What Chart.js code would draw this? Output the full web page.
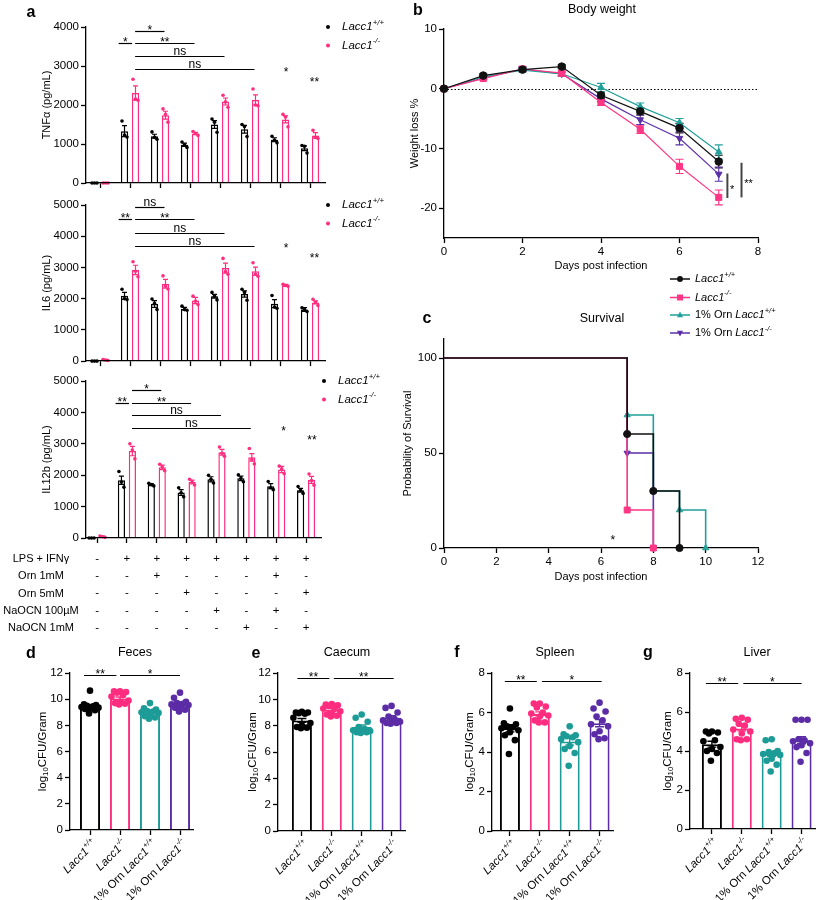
<!DOCTYPE html>
<html>
<head>
<meta charset="utf-8">
<title>Lacc1 / ornithine figure</title>
<script src="https://cdn.jsdelivr.net/npm/chart.js@4.4.1/dist/chart.umd.min.js"></script>
<style>
  body { margin: 0; background: #fff; }
  #page { position: relative; width: 825px; height: 900px; overflow: hidden; font-family: "Liberation Sans", Arial, sans-serif; color: #000; }
  canvas { position: absolute; }
  .t { position: absolute; transform: translate(-50%, -50%); white-space: nowrap; font-size: 12.5px; }
  .p { position: absolute; transform: translate(-50%, -50%); font-weight: bold; font-size: 16px; }
</style>
</head>
<body>
<div id="page">
  <canvas id="tnf"></canvas>
  <canvas id="il6"></canvas>
  <canvas id="il12"></canvas>
  <canvas id="bw"></canvas>
  <canvas id="surv"></canvas>
  <canvas id="feces"></canvas>
  <canvas id="caecum"></canvas>
  <canvas id="spleen"></canvas>
  <canvas id="liver"></canvas>

  <div class="p" style="left:31px;top:12px">a</div>
  <div class="p" style="left:418px;top:10px">b</div>
  <div class="p" style="left:427px;top:318px">c</div>
  <div class="p" style="left:31px;top:653px">d</div>
  <div class="p" style="left:256px;top:653px">e</div>
  <div class="p" style="left:457px;top:652px">f</div>
  <div class="p" style="left:648px;top:652px">g</div>

  <div class="t" style="left:602px;top:9px">Body weight</div>
  <div class="t" style="left:602px;top:318px">Survival</div>
  <div class="t" style="left:135px;top:652px">Feces</div>
  <div class="t" style="left:347px;top:652px">Caecum</div>
  <div class="t" style="left:555px;top:652px">Spleen</div>
  <div class="t" style="left:757px;top:652px">Liver</div>
</div>
<script>
const FONT = '"Liberation Sans", Arial, Helvetica, sans-serif';
const BLACK = '#000000', PINK = '#ff2d7f', TEAL = '#1d9c97', PURPLE = '#5b2ca6';

// ---------- a: cytokines, 8 treatment conditions ----------
const conditionNames = ['LPS + IFNγ', 'Orn 1mM', 'Orn 5mM', 'NaOCN 100µM', 'NaOCN 1mM'];
const conditionTable = [
  ['-', '+', '+', '+', '+', '+', '+', '+'],
  ['-', '-', '+', '-', '-', '-', '+', '-'],
  ['-', '-', '-', '+', '-', '-', '-', '+'],
  ['-', '-', '-', '-', '+', '-', '+', '-'],
  ['-', '-', '-', '-', '-', '+', '-', '+']
];

const tnfWT = [0, 1330, 1200, 980, 1500, 1380, 1110, 890];
const tnfWTsem = [0, 140, 50, 40, 100, 100, 50, 60];
const tnfWTpts = [[0, 0, 0], [1590, 1230, 1180], [1310, 1170, 1120], [1050, 980, 910], [1640, 1560, 1300], [1500, 1450, 1190], [1200, 1100, 1030], [960, 940, 770]];
const tnfKO = [0, 2310, 1740, 1270, 2090, 2130, 1630, 1220];
const tnfKOsem = [0, 180, 100, 30, 90, 130, 90, 70];
const tnfKOpts = [[0, 0, 0], [2660, 2150, 2120], [1900, 1760, 1560], [1320, 1270, 1220], [2250, 2080, 1940], [2410, 2000, 1980], [1760, 1690, 1440], [1350, 1170, 1140]];

const il6WT = [0, 2090, 1830, 1680, 2080, 2150, 1840, 1650];
const il6WTsem = [0, 110, 110, 40, 60, 100, 130, 60];
const il6WTpts = [[0, 0, 0], [2300, 2000, 1970], [1990, 1850, 1650], [1760, 1650, 1630], [2200, 2080, 1960], [2300, 2200, 1950], [2100, 1730, 1690], [1710, 1650, 1590]];
const il6KO = [35, 2920, 2480, 1940, 2980, 2880, 2430, 1880];
const il6KOsem = [20, 150, 140, 100, 160, 130, 30, 50];
const il6KOpts = [[50, 35, 20], [3180, 2880, 2700], [2730, 2400, 2310], [2080, 1920, 1810], [3290, 2870, 2780], [3150, 2780, 2720], [2460, 2420, 2400], [1980, 1890, 1780]];

const il12WT = [0, 1840, 1700, 1450, 1870, 1900, 1650, 1520];
const il12WTsem = [0, 130, 30, 90, 80, 70, 80, 60];
const il12WTpts = [[0, 0, 0], [2120, 1780, 1620], [1740, 1700, 1660], [1600, 1440, 1310], [2000, 1870, 1750], [2010, 1900, 1790], [1800, 1600, 1540], [1640, 1520, 1420]];
const il12KO = [40, 2770, 2250, 1780, 2730, 2570, 2180, 1850];
const il12KOsem = [20, 150, 70, 60, 90, 120, 100, 110];
const il12KOpts = [[60, 40, 20], [3000, 2800, 2520], [2350, 2260, 2140], [1870, 1780, 1690], [2900, 2700, 2600], [2850, 2500, 2360], [2290, 2200, 2050], [2040, 1830, 1680]];

const tnfTicks = [0, 1000, 2000, 3000, 4000];
const il6Ticks = [0, 1000, 2000, 3000, 4000, 5000];

// significance: [from, to, value, text]  /  single marks: [x, value, text]
const tnfSig = [[0.62, 1.07, 3590, '*'], [1.17, 2.15, 3897, '*'], [1.17, 3.15, 3590, '**'], [1.17, 4.15, 3256, 'ns'], [1.17, 5.15, 2923, 'ns']];
const tnfMarks = [[6.2, 2923, '*'], [7.15, 2667, '**']];
const il6Sig = [[0.62, 1.07, 4554, '**'], [1.17, 2.15, 4936, 'ns'], [1.17, 3.15, 4554, '**'], [1.17, 4.15, 4108, 'ns'], [1.17, 5.15, 3694, 'ns']];
const il6Marks = [[6.2, 3726, '*'], [7.15, 3408, '**']];
const il12Sig = [[0.62, 1.07, 4299, '**'], [1.17, 2.15, 4713, '*'], [1.17, 3.15, 4299, '**'], [1.17, 4.15, 3917, 'ns'], [1.17, 5.15, 3503, 'ns']];
const il12Marks = [[6.25, 3494, '*'], [7.2, 3217, '**']];

// ---------- b: body weight ----------
const days = [0, 1, 2, 3, 4, 5, 6, 7];
const bwWT = [0, 2.2, 3.2, 3.7, -1.1, -3.8, -6.6, -12.2];
const bwWTerr = [0, 0.3, 0.3, 0.3, 0.5, 0.6, 0.8, 1.05];
const bwKO = [0, 1.7, 3.3, 2.6, -2.3, -6.8, -13.0, -18.2];
const bwKOerr = [0, 0.2, 0.4, 0.5, 0.5, 0.7, 1.2, 1.25];
const bwOrnWT = [0, 2.0, 3.1, 2.5, 0.2, -3.0, -5.7, -10.6];
const bwOrnWTerr = [0, 0.3, 0.3, 0.3, 0.7, 0.6, 0.7, 1.2];
const bwOrnKO = [0, 1.8, 3.3, 2.5, -1.7, -5.2, -8.3, -14.3];
const bwOrnKOerr = [0, 0.3, 0.3, 0.3, 0.5, 0.8, 1.1, 1.2];
const bwTicks = [-20, -10, 0, 10];
const bwDayTicks = [0, 2, 4, 6, 8];
const bwSig = [[7.22, -14.2, -18.3, '*', 7.34, -16.4], [7.58, -12.4, -18.2, '**', 7.76, -15.4]];

// ---------- c: survival (Kaplan-Meier steps) ----------
const survWTx = [0, 7, 8, 9], survWTy = [100, 60, 30, 0];
const survKOx = [0, 7, 8], survKOy = [100, 20, 0];
const survOrnWTx = [0, 7, 8, 9, 10], survOrnWTy = [100, 70, 30, 20, 0];
const survOrnKOx = [0, 7, 8], survOrnKOy = [100, 50, 0];
const survTicks = [0, 50, 100];
const survDayTicks = [0, 2, 4, 6, 8, 10, 12];
const survMarks = [[6.45, 6, '*']];

// ---------- d-g: bacterial load ----------
const WT = [['Lacc1', 'i'], ['+/+', 'is']];
const KO = [['Lacc1', 'i'], ['-/-', 'is']];
const ORN = ['1% Orn ', ''];
const cfuGroups = [WT, KO, [ORN, ...WT], [ORN, ...KO]];
const cfuColors = [BLACK, PINK, TEAL, PURPLE];

const fecesMean = [9.45, 10.05, 9.05, 9.65];
const fecesSem = [0.12, 0.12, 0.1, 0.13];
const fecesPts = [
  [10.65, 9.6, 9.55, 9.5, 9.45, 9.4, 9.35, 9.3, 9.25, 9.15, 8.9],
  [10.6, 10.6, 10.55, 10.5, 10.3, 10.2, 9.9, 9.8, 9.7, 9.65, 9.6],
  [9.7, 9.3, 9.2, 9.1, 9.05, 9.0, 8.95, 8.85, 8.7, 8.6, 8.5],
  [10.5, 10.1, 9.8, 9.7, 9.65, 9.6, 9.55, 9.45, 9.35, 9.2, 9.05]
];
const caecumMean = [8.4, 9.2, 7.9, 8.6];
const caecumSem = [0.15, 0.1, 0.15, 0.15];
const caecumPts = [
  [9.05, 9.0, 9.0, 8.95, 8.9, 8.6, 8.2, 8.0, 7.9, 7.85, 7.8],
  [9.65, 9.6, 9.55, 9.5, 9.4, 9.3, 9.1, 8.95, 8.85, 8.75, 8.7],
  [8.85, 8.6, 8.3, 7.9, 7.75, 7.65, 7.6, 7.55, 7.5, 7.5, 7.45],
  [9.5, 9.35, 9.0, 8.7, 8.5, 8.4, 8.3, 8.25, 8.2, 8.2, 8.15]
];
const spleenMean = [5.2, 5.93, 4.53, 5.46];
const spleenSem = [0.18, 0.1, 0.18, 0.18];
const spleenPts = [
  [6.2, 5.45, 5.4, 5.3, 5.25, 5.2, 5.1, 5.0, 4.85, 4.6, 3.9],
  [6.45, 6.45, 6.3, 6.25, 6.0, 5.95, 5.85, 5.8, 5.6, 5.5, 5.5],
  [5.3, 4.9, 4.85, 4.8, 4.75, 4.65, 4.5, 4.3, 4.15, 3.95, 3.3],
  [6.5, 6.2, 6.05, 5.8, 5.6, 5.4, 5.3, 5.05, 4.9, 4.7, 4.65]
];
const liverMean = [4.35, 5.15, 3.85, 4.55];
const liverSem = [0.15, 0.12, 0.13, 0.18];
const liverPts = [
  [5.0, 5.0, 4.95, 4.9, 4.55, 4.5, 4.2, 4.1, 4.0, 3.9, 3.5],
  [5.7, 5.65, 5.6, 5.4, 5.3, 5.1, 5.0, 4.9, 4.6, 4.6, 4.55],
  [4.6, 4.55, 4.0, 3.95, 3.9, 3.85, 3.8, 3.6, 3.5, 3.3, 2.95],
  [5.6, 5.6, 5.6, 4.6, 4.55, 4.5, 4.4, 4.3, 4.2, 3.9, 3.45]
];
const cfuTicks12 = [0, 2, 4, 6, 8, 10, 12];
const cfuTicks8 = [0, 2, 4, 6, 8];
const fecesSig = [[-0.2, 0.88, 11.85, '**'], [1.0, 3.0, 11.85, '*']];
const caecumSig = [[-0.15, 0.92, 11.6, '**'], [1.07, 3.07, 11.6, '**']];
const spleenSig = [[-0.17, 0.9, 7.6, '**'], [1.07, 3.07, 7.6, '*']];
const liverSig = [[-0.2, 0.88, 7.5, '**'], [1.05, 3.0, 7.5, '*']];

// ---------- chart.js defaults ----------
Chart.defaults.font.family = FONT;
Chart.defaults.color = '#000';
Chart.defaults.animation = false;
Chart.defaults.responsive = false;
Chart.defaults.events = [];
Chart.defaults.plugins.legend.display = false;
Chart.defaults.plugins.tooltip.enabled = false;

const jitterA = [-2.5, 0, 2.5];
const jitterCFU = [0, -6, 6, -3, 3, -8.5, 8.5, 0, -5, 5, -1];
const pick = (c, i) => Array.isArray(c) ? c[i] : c;

// canvas box [left, top, w, h] and plot area [x0, y0, x1, y1], page pixels
function frame(id, box, plot) {
  const c = document.getElementById(id);
  c.width = box[2]; c.height = box[3];
  c.style.left = box[0] + 'px'; c.style.top = box[1] + 'px';
  return {
    canvas: c, left: box[0],
    padding: {left: 0, top: plot[1] - box[1], right: box[0] + box[2] - plot[2], bottom: 0},
    yW: plot[0] - box[0],
    xH: box[1] + box[3] - plot[3]
  };
}

function yAxis(f, ticks, min, max, title, titleX) {
  return {
    type: 'linear', min, max, bounds: 'data',
    afterBuildTicks: s => { s.ticks = ticks.map(v => ({value: v})); },
    afterFit: s => { s.width = f.yW; },
    ticks: {font: {size: 11.5}, padding: 2, color: '#000', callback: v => String(v)},
    grid: {drawOnChartArea: false, tickLength: 5, color: '#000', tickWidth: 1.3},
    border: {color: '#000', width: 1.3},
    title: {display: !!title, text: title, font: {size: 11}, color: '#000', padding: {top: titleX - f.left - 6.6, bottom: 0}}
  };
}

function xAxis(f, min, max, ticks, cb) {
  return {
    type: 'linear', min, max, bounds: 'data', offset: false,
    afterBuildTicks: s => { s.ticks = ticks.map(v => ({value: v})); },
    afterFit: s => { s.height = f.xH; },
    ticks: {callback: cb, autoSkip: false, maxRotation: 0, minRotation: 0, padding: 2, font: {size: 11.5}, color: '#000'},
    grid: {drawOnChartArea: false, offset: false, tickLength: 5, color: '#000', tickWidth: 1.3},
    border: {color: '#000', width: 1.3}
  };
}

function drawRich(ctx, parts, x, y, size, align) {
  const seg = parts.map(([t, s]) => {
    const small = s === 'is' || s === 'sub';
    const f = (s && s[0] === 'i' ? 'italic ' : '') + (small ? size * 0.68 : size) + 'px ' + FONT;
    ctx.font = f;
    return {t, f, w: ctx.measureText(t).width, dy: s === 'is' ? -size * 0.38 : s === 'sub' ? size * 0.28 : 0};
  });
  const total = seg.reduce((a, s) => a + s.w, 0);
  let cx = align === 'right' ? x - total : align === 'center' ? x - total / 2 : x;
  ctx.textAlign = 'left';
  seg.forEach(s => { ctx.font = s.f; ctx.fillText(s.t, cx, y + s.dy); cx += s.w; });
}

function mark(ctx, t, x, cy, size) {
  ctx.font = size + 'px ' + FONT;
  ctx.fillStyle = '#000';
  ctx.textAlign = 'center';
  ctx.textBaseline = 'alphabetic';
  ctx.fillText(t, x, cy + (t.includes('*') ? 0.6 : 0.27) * size);
}

function marker(ctx, style, x, y, r, color, rot) {
  ctx.fillStyle = color;
  ctx.beginPath();
  if (style === 'circle') ctx.arc(x, y, r, 0, 2 * Math.PI);
  else if (style === 'rect') ctx.rect(x - r, y - r, 2 * r, 2 * r);
  else {
    const s = rot ? -1 : 1;
    ctx.moveTo(x, y - s * r * 1.15); ctx.lineTo(x + r, y + s * r * 0.75); ctx.lineTo(x - r, y + s * r * 0.75); ctx.closePath();
  }
  ctx.fill();
}

function drawErrors(ctx, chart, o) {
  const ys = chart.scales.y;
  chart.data.datasets.forEach((ds, di) => {
    if (!ds.sem) return;
    const meta = chart.getDatasetMeta(di);
    ctx.lineWidth = o.errW;
    meta.data.forEach((el, i) => {
      const e = ds.sem[i];
      if (!e) return;
      const v = ds.data[i].y, h = o.errCap / 2;
      const y1 = ys.getPixelForValue(v - e), y2 = ys.getPixelForValue(v + e);
      ctx.strokeStyle = pick(ds.errColor || ds.borderColor, i);
      ctx.beginPath();
      ctx.moveTo(el.x, y1); ctx.lineTo(el.x, y2);
      ctx.moveTo(el.x - h, y1); ctx.lineTo(el.x + h, y1);
      ctx.moveTo(el.x - h, y2); ctx.lineTo(el.x + h, y2);
      ctx.stroke();
    });
  });
}

function annotate(o) {
  return {
    id: 'annotate',
    beforeDatasetsDraw(chart) {
      const {ctx, chartArea: ca, scales: {y}} = chart;
      ctx.save();
      if (o.zeroLine) {
        const yy = Math.round(y.getPixelForValue(0)) + 0.5;
        ctx.setLineDash([1.5, 2]); ctx.strokeStyle = '#000'; ctx.lineWidth = 1.2;
        ctx.beginPath(); ctx.moveTo(ca.left, yy); ctx.lineTo(ca.right, yy); ctx.stroke();
        ctx.setLineDash([]);
      }
      if (o.errorsBehind) drawErrors(ctx, chart, o);
      ctx.restore();
    },
    afterDatasetsDraw(chart) {
      const {ctx, chartArea: ca, scales: {x, y}} = chart;
      ctx.save();
      if (o.errCap && !o.errorsBehind) drawErrors(ctx, chart, o);
      if (o.jitter) chart.data.datasets.forEach((ds, di) => {
        if (!ds.points) return;
        chart.getDatasetMeta(di).data.forEach((el, i) => {
          ctx.fillStyle = pick(ds.dotColor, i);
          ds.points[i].forEach((v, k) => {
            ctx.beginPath();
            ctx.arc(el.x + o.jitter[k % o.jitter.length], y.getPixelForValue(v), o.dotR, 0, 2 * Math.PI);
            ctx.fill();
          });
        });
      });
      (o.sig || []).forEach(([a, b, v, t]) => {
        const yy = Math.round(y.getPixelForValue(v)) + 0.5;
        const x1 = x.getPixelForValue(a), x2 = x.getPixelForValue(b);
        ctx.strokeStyle = '#000'; ctx.lineWidth = 1.2;
        ctx.beginPath(); ctx.moveTo(x1, yy); ctx.lineTo(x2, yy); ctx.stroke();
        mark(ctx, t, (x1 + x2) / 2, yy - 4.5, 12);
      });
      (o.marks || []).forEach(([a, v, t]) => mark(ctx, t, x.getPixelForValue(a), y.getPixelForValue(v), 12));
      (o.vsig || []).forEach(([a, v1, v2, t, ta, tv]) => {
        const xx = x.getPixelForValue(a);
        ctx.strokeStyle = '#444'; ctx.lineWidth = 2;
        ctx.beginPath(); ctx.moveTo(xx, y.getPixelForValue(v1)); ctx.lineTo(xx, y.getPixelForValue(v2)); ctx.stroke();
        mark(ctx, t, x.getPixelForValue(ta), y.getPixelForValue(tv), 11);
      });
      if (o.legendA) o.legendA.forEach((parts, k) => {
        const ds = chart.data.datasets[k], yy = ca.top + k * 18.5;
        ctx.fillStyle = ds.dotColor;
        ctx.beginPath(); ctx.arc(ca.right + 3, yy, 2, 0, 2 * Math.PI); ctx.fill();
        ctx.fillStyle = '#000'; ctx.textBaseline = 'middle';
        drawRich(ctx, parts, ca.right + 17, yy, 11.5, 'left');
      });
      if (o.legendRows) chart.data.datasets.forEach((ds, k) => {
        const yy = o.legendRows[k], xx = 280;
        ctx.strokeStyle = ds.borderColor; ctx.lineWidth = 1.5;
        ctx.beginPath(); ctx.moveTo(xx - 10, yy); ctx.lineTo(xx + 10, yy); ctx.stroke();
        marker(ctx, ds.pointStyle, xx, yy, 3, ds.borderColor, ds.pointRotation);
        ctx.fillStyle = '#000'; ctx.textBaseline = 'middle';
        drawRich(ctx, ds.rich, xx + 15, yy, 11, 'left');
      });
      if (o.xRich) o.xRich.forEach((parts, i) => {
        ctx.save();
        ctx.translate(x.getPixelForValue(i) + 5, x.top + 12);
        ctx.rotate(-Math.PI / 4);
        ctx.fillStyle = '#000'; ctx.textBaseline = 'middle';
        drawRich(ctx, parts, 0, 0, 11.5, 'right');
        ctx.restore();
      });
      if (o.yRich) {
        ctx.save();
        ctx.translate(o.yRich.x, (ca.top + ca.bottom) / 2);
        ctx.rotate(-Math.PI / 2);
        ctx.fillStyle = '#000'; ctx.textBaseline = 'middle';
        drawRich(ctx, o.yRich.parts, 0, 0, 11.5, 'center');
        ctx.restore();
      }
      if (o.rowTitles) {
        const lh = 17.25, y0 = x.top + 5 + 7.4 + lh / 2;
        ctx.font = '11px ' + FONT; ctx.fillStyle = '#000'; ctx.textAlign = 'center'; ctx.textBaseline = 'middle';
        o.rowTitles.forEach((t, r) => ctx.fillText(t, 41, y0 + r * lh));
      }
      ctx.restore();
    }
  };
}

// ---------- panel a ----------
function barSet(mean, sem, pts, color) {
  return {
    data: mean.map((v, i) => ({x: i, y: v})), sem, points: pts,
    backgroundColor: '#fff', borderColor: color, borderWidth: 1.5, dotColor: color,
    barPercentage: 0.66, categoryPercentage: 0.733
  };
}

function cytokine(id, box, plot, xmin, xmax, yTicks, ymax, title, wt, ko, sig, marks, table) {
  const f = frame(id, box, plot);
  const idx = conditionTable[0].map((_, i) => i);
  const xs = xAxis(f, xmin, xmax, idx, table ? (v, i) => conditionTable.map(r => r[i]) : () => '');
  xs.border.z = 1;
  if (table) { xs.ticks.font = {size: 11.5, lineHeight: 1.5}; xs.ticks.padding = 7; }
  new Chart(f.canvas, {
    type: 'bar',
    data: {datasets: [barSet(...wt, BLACK), barSet(...ko, PINK)]},
    options: {
      layout: {padding: f.padding},
      scales: {x: xs, y: yAxis(f, yTicks, 0, ymax, title, 47)}
    },
    plugins: [annotate({errCap: 5, errW: 1.2, jitter: jitterA, dotR: 1.8, sig, marks, legendA: [WT, KO], rowTitles: table ? conditionNames : null})]
  });
}

cytokine('tnf', [0, 10, 400, 185], [86, 27, 325, 183], -0.467, 7.5, tnfTicks, 4000, 'TNFα (pg/mL)',
  [tnfWT, tnfWTsem, tnfWTpts], [tnfKO, tnfKOsem, tnfKOpts], tnfSig, tnfMarks, false);
cytokine('il6', [0, 195, 400, 175], [86, 205, 325, 362], -0.467, 7.5, il6Ticks, 5000, 'IL6 (pg/mL)',
  [il6WT, il6WTsem, il6WTpts], [il6KO, il6KOsem, il6KOpts], il6Sig, il6Marks, false);
cytokine('il12', [0, 370, 400, 270], [86, 381, 321, 538], -0.37, 7.5, il6Ticks, 5000, 'IL12b (pg/mL)',
  [il12WT, il12WTsem, il12WTpts], [il12KO, il12KOsem, il12KOpts], il12Sig, il12Marks, true);

// ---------- panel b ----------
function lineSet(xv, yv, err, color, style, rot, rich, extra) {
  return Object.assign({
    data: xv.map((d, i) => ({x: d, y: yv[i]})), sem: err, rich,
    borderColor: color, backgroundColor: color, pointBackgroundColor: color, pointBorderColor: color,
    pointStyle: style, pointRotation: rot, pointRadius: style === 'rect' ? 4.3 : 3.8, pointBorderWidth: 1,
    borderWidth: 1.2, tension: 0, clip: false
  }, extra || {});
}

(function () {
  const f = frame('bw', [400, 0, 425, 290], [444, 29, 758, 238]);
  const xs = xAxis(f, 0, 8, bwDayTicks, v => String(v));
  xs.title = {display: true, text: 'Days post infection', font: {size: 11}, color: '#000', padding: {top: 0, bottom: 17.4}};
  new Chart(f.canvas, {
    type: 'line',
    data: {datasets: [
      lineSet(days, bwWT, bwWTerr, '#111111', 'circle', 0, WT),
      lineSet(days, bwKO, bwKOerr, '#ff3585', 'rect', 0, KO),
      lineSet(days, bwOrnWT, bwOrnWTerr, '#22a09a', 'triangle', 0, [ORN, ...WT]),
      lineSet(days, bwOrnKO, bwOrnKOerr, '#5b2fa8', 'triangle', 180, [ORN, ...KO])
    ]},
    options: {
      layout: {padding: f.padding},
      scales: {x: xs, y: yAxis(f, bwTicks, -25, 10, 'Weight loss %', 415)}
    },
    plugins: [annotate({zeroLine: true, errorsBehind: true, errCap: 8, errW: 1.1, vsig: bwSig})]
  });
})();

// ---------- panel c ----------
(function () {
  const f = frame('surv', [400, 265, 425, 325], [444, 339, 758, 548]);
  const xs = xAxis(f, 0, 12, survDayTicks, v => String(v));
  xs.title = {display: true, text: 'Days post infection', font: {size: 11}, color: '#000', padding: {top: 0, bottom: 6.4}};
  const km = xv => ({stepped: true, borderWidth: 1.6, pointRadius: xv.map((_, i) => i === 0 ? 0 : 3.6)});
  new Chart(f.canvas, {
    type: 'line',
    data: {datasets: [
      lineSet(survWTx, survWTy, null, '#111111', 'circle', 0, WT, km(survWTx)),
      lineSet(survKOx, survKOy, null, '#ff3585', 'rect', 0, KO, Object.assign(km(survKOx), {pointRadius: survKOx.map((_, i) => i === 0 ? 0 : 4.2)})),
      lineSet(survOrnWTx, survOrnWTy, null, '#22a09a', 'triangle', 0, [ORN, ...WT], km(survOrnWTx)),
      lineSet(survOrnKOx, survOrnKOy, null, '#5b2fa8', 'triangle', 180, [ORN, ...KO], km(survOrnKOx))
    ]},
    options: {
      layout: {padding: f.padding},
      scales: {x: xs, y: yAxis(f, survTicks, 0, 110, 'Probability of Survival', 408)}
    },
    plugins: [annotate({marks: survMarks, legendRows: [14, 32.5, 50, 68]})]
  });
})();

// ---------- panels d-g ----------
function cfuPanel(id, box, plot, xmin, ymax, yTicks, mean, sem, pts, sig, titleX) {
  const f = frame(id, box, plot);
  const xs = xAxis(f, xmin, 3.45, [0, 1, 2, 3], () => '');
  xs.border.z = 1;
  const ys = yAxis(f, yTicks, 0, ymax, '', 0);
  new Chart(f.canvas, {
    type: 'bar',
    data: {datasets: [{
      data: mean.map((v, i) => ({x: i, y: v})), sem, points: pts,
      backgroundColor: '#fff', borderColor: cfuColors, borderWidth: 2, dotColor: cfuColors,
      barPercentage: 0.67, categoryPercentage: 1
    }]},
    options: {
      layout: {padding: f.padding},
      scales: {x: xs, y: ys}
    },
    plugins: [annotate({
      errCap: 9, errW: 1.4, jitter: jitterCFU, dotR: 3.3, sig, xRich: cfuGroups,
      yRich: {x: titleX - f.left, parts: [['log', ''], ['10', 'sub'], ['CFU/Gram', '']]}
    })]
  });
}

cfuPanel('feces', [0, 640, 205, 260], [70, 673, 193.5, 830], -0.667, 12, cfuTicks12, fecesMean, fecesSem, fecesPts, fecesSig, 43);
cfuPanel('caecum', [205, 640, 205, 260], [278, 673, 405, 831], -0.8, 12, cfuTicks12, caecumMean, caecumSem, caecumPts, caecumSig, 253);
cfuPanel('spleen', [410, 640, 205, 260], [492, 673, 613, 831], -0.6, 8, cfuTicks8, spleenMean, spleenSem, spleenPts, spleenSig, 470);
cfuPanel('liver', [615, 640, 210, 260], [690, 673, 815, 829], -0.733, 8, cfuTicks8, liverMean, liverSem, liverPts, liverSig, 668);
</script>
</body>
</html>
